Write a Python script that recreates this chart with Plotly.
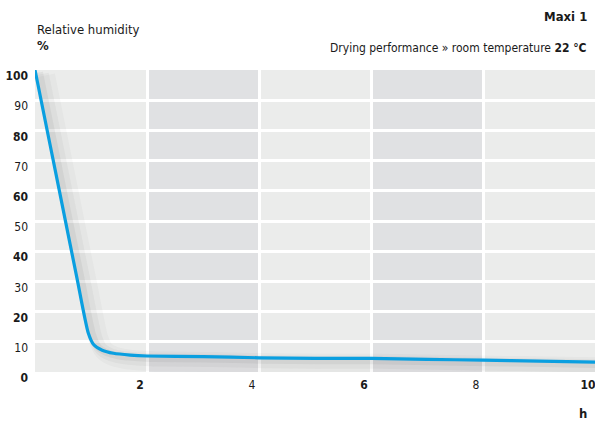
import plotly.graph_objects as go

# Data
hours = [0, 0.25, 0.5, 0.75, 0.95, 1.05, 1.2, 1.4, 1.7, 2.0, 3.0, 4.0, 5.0, 6.0, 7.0, 8.0, 9.0, 10.0]
humidity = [100, 77, 54, 31, 13, 9.0, 7.2, 6.2, 5.6, 5.3, 5.1, 4.7, 4.5, 4.5, 4.2, 3.9, 3.6, 3.3]

y_ticks = [0, 10, 20, 30, 40, 50, 60, 70, 80, 90, 100]
x_ticks = [2, 4, 6, 8, 10]
band_edges = [0, 2, 4, 6, 8, 10]
band_colors = ["#ebeceb", "#e0e1e3", "#ebeceb", "#e0e1e3", "#ebeceb"]

FONT = "DejaVu Sans Condensed, Liberation Sans Narrow, sans-serif"
LINE = "#0a9fe0"

fig = go.Figure()

# soft shadow beneath the curve
for w, a, dx, dy in [(20, 0.03, 0.18, -1.8), (13, 0.05, 0.13, -1.3), (7, 0.07, 0.08, -0.8)]:
    fig.add_trace(go.Scatter(
        x=[h + dx for h in hours], y=[v + dy for v in humidity],
        mode="lines", line=dict(color=f"rgba(70,70,70,{a})", width=w, shape="spline", smoothing=0.6),
        hoverinfo="skip", showlegend=False))

fig.add_trace(go.Scatter(
    x=hours, y=humidity, mode="lines",
    line=dict(color=LINE, width=3.2, shape="spline", smoothing=0.6),
    showlegend=False))

for i in range(len(band_edges) - 1):
    fig.add_shape(type="rect", xref="x", yref="y", x0=band_edges[i], x1=band_edges[i + 1],
                  y0=y_ticks[0], y1=y_ticks[-1], fillcolor=band_colors[i], line_width=0, layer="below")

y_text = [f"<b>{v}</b>" if v % 20 == 0 else str(v) for v in y_ticks]
x_text = [f"<b>{v}</b>" if v % 4 == 2 else str(v) for v in x_ticks]

fig.update_xaxes(range=[0, 10], tickvals=x_ticks, ticktext=x_text, showgrid=True,
                 gridcolor="white", gridwidth=2.5, zeroline=False, showline=False,
                 ticks="", ticklabelshift=-7, ticklabelstandoff=4, ticklabeloverflow="allow",
                 tickfont=dict(family=FONT, size=12, color="#1a1a1a"))
fig.update_yaxes(range=[0, 100], tickvals=y_ticks, ticktext=y_text, showgrid=True,
                 gridcolor="white", gridwidth=2.5, zeroline=False, showline=False,
                 ticks="", ticklabelshift=6, ticklabelstandoff=6, ticklabeloverflow="allow",
                 tickfont=dict(family=FONT, size=12, color="#1a1a1a"))

ann = dict(xref="paper", yref="paper", showarrow=False, font=dict(family=FONT, size=13, color="#1a1a1a"))
fig.add_annotation(text="Relative humidity", x=0, y=1, yshift=31, xanchor="left", yanchor="bottom", **ann)
fig.add_annotation(text="<b>%</b>", x=0, y=1, yshift=15, xanchor="left", yanchor="bottom", **ann)
fig.add_annotation(text="<b>Maxi 1</b>", x=1, y=1, xshift=-6, yshift=44, xanchor="right", yanchor="bottom", **ann)
fig.add_annotation(text="Drying performance » room temperature <b>22 °C</b>", x=1, y=1, xshift=-6,
                   yshift=13, xanchor="right", yanchor="bottom",
                   xref="paper", yref="paper", showarrow=False,
                   font=dict(family=FONT, size=12, color="#1a1a1a"))
fig.add_annotation(text="<b>h</b>", x=1, y=0, xshift=-6, yshift=-32, xanchor="right", yanchor="top", **ann)

fig.update_layout(width=595, height=425, margin=dict(l=35, r=0, t=70, b=53),
                  paper_bgcolor="white", plot_bgcolor="#ebeceb",
                  font=dict(family=FONT))

fig.write_html("out.html", config={"displayModeBar": False},
               post_script="document.body.style.margin='0';")
